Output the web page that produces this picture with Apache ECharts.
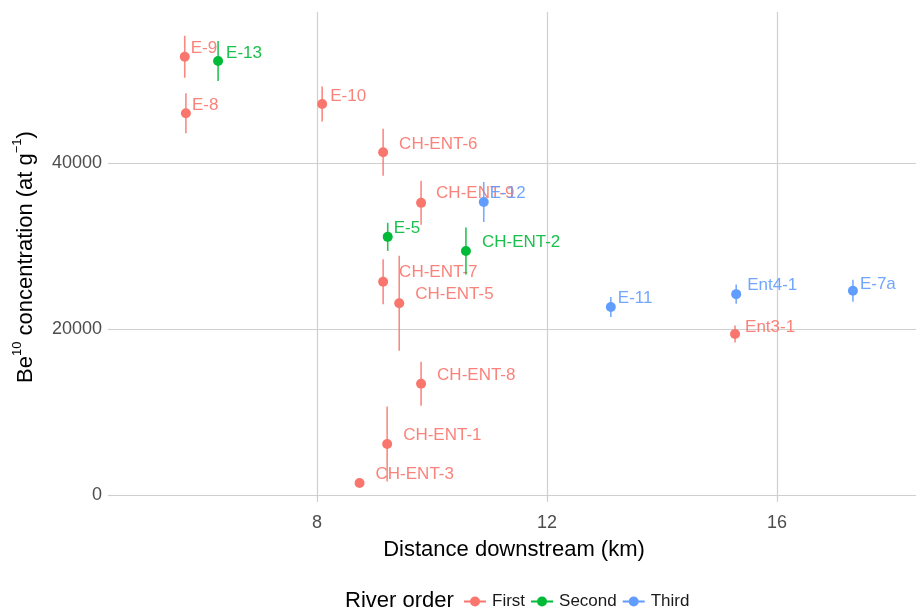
<!DOCTYPE html>
<html>
<head>
<meta charset="utf-8">
<script src="https://cdn.jsdelivr.net/npm/echarts@6/dist/echarts.min.js"></script>
<style>html,body{margin:0;padding:0;background:#fff}#c{width:916px;height:614px}</style>
</head>
<body>
<div id="c"></div>
<script>
// ---- data ----
const sampleNames = ['E-9','E-13','E-8','E-10','CH-ENT-6','CH-ENT-9','E-12','E-5','CH-ENT-2','CH-ENT-7','CH-ENT-5','CH-ENT-8','CH-ENT-1','CH-ENT-3','E-11','Ent4-1','E-7a','Ent3-1'];
const riverOrderOfSample = ['First','Second','First','First','First','First','Third','Second','Second','First','First','First','First','First','Third','Third','Third','First'];
const distanceKm = [5.70,6.28,5.72,8.09,9.15,9.81,10.90,9.23,10.59,9.15,9.43,9.81,9.22,8.74,13.11,15.29,17.32,15.27];
const be10 = [52800,52300,46000,47100,41300,35200,35300,31100,29400,25700,23100,13400,6150,1450,22650,24200,24600,19400];
const be10Err = [2530,2410,2410,2110,2830,2650,2410,1690,2830,2710,5720,2650,4520,400,1200,1150,1330,1020];
const riverOrders = ['First','Second','Third'];
const xTicks = [8,12,16];
const yTicks = [0,20000,40000];

// ---- layout / style (not data) ----
const labelOffset = [[6,-8],[8,-8],[6,-8],[8,-8],[16,-8],[15,-10],[6,-9],[6,-9],[16,-9],[16,-9],[16,-9],[16,-8],[16,-9],[16,-9],[7,-9],[11,-9],[7,-7],[10,-7]];
const colors = {First:'#F8766D', Second:'#00BA38', Third:'#619CFF'};
const FONT = '"Liberation Sans", Arial, sans-serif';
const gridColor = '#cfcfcf';

const chart = echarts.init(document.getElementById('c'), null, {renderer:'canvas'});

function makeSeries(order){
  const data = [];
  sampleNames.forEach((n,i)=>{
    if (riverOrderOfSample[i] === order) data.push([distanceKm[i], be10[i], be10Err[i], i]);
  });
  const color = colors[order];
  return {
    type:'custom',
    name: order,
    itemStyle:{color: color},
    data: data,
    renderItem: function(params, api){
      const x = api.value(0), y = api.value(1), e = api.value(2), idx = api.value(3);
      const p = api.coord([x,y]);
      const lo = api.coord([x,y-e]);
      const hi = api.coord([x,y+e]);
      const off = labelOffset[idx];
      return {type:'group', children:[
        {type:'line', shape:{x1:lo[0],y1:lo[1],x2:hi[0],y2:hi[1]}, style:{stroke:color, lineWidth:1.6, opacity:0.85}},
        {type:'circle', shape:{cx:p[0],cy:p[1],r:5}, style:{fill:color}},
        {type:'text', x:p[0]+off[0], y:p[1]+off[1], style:{text:sampleNames[idx], fill:color, opacity:0.9, fontSize:17, fontFamily:FONT, verticalAlign:'middle', align:'left'}}
      ]};
    }
  };
}

const legendIcon = 'path://M0,9 L22,9 L22,11 L0,11 Z M16,10 A5,5 0 1,1 6,10 A5,5 0 1,1 16,10 Z';

chart.setOption({
  animation:false,
  backgroundColor:'#fff',
  textStyle:{fontFamily:FONT},
  title:{text:'River order', left:345, top:590, padding:0, textStyle:{fontSize:22, fontWeight:'normal', color:'#000', fontFamily:FONT}},
  legend:{
    left:464, top:593, padding:0, itemGap:6, itemWidth:22, itemHeight:10,
    data: riverOrders.map(o=>({name:o, icon:legendIcon})),
    textStyle:{fontSize:17, color:'#1a1a1a', fontFamily:FONT, padding:[0,0,0,1]}
  },
  grid:{left:112, right:0, top:12, bottom:112, containLabel:false},
  xAxis:{
    type:'value', min:4.435, max:18.417,
    name:'Distance downstream (km)', nameLocation:'middle', nameGap:37,
    nameTextStyle:{fontSize:22, color:'#000', fontFamily:FONT},
    axisLine:{show:false},
    axisTick:{show:true, length:4, customValues:xTicks, lineStyle:{color:gridColor, width:1.2}},
    axisLabel:{customValues:xTicks, fontSize:18, color:'#4d4d4d', margin:12, fontFamily:FONT, formatter: v => String(v)},
    splitLine:{show:true, lineStyle:{color:gridColor, width:1.2}}
  },
  yAxis:{
    type:'value', min:-843, max:58193,
    name:'{n|Be}{s|10}{n| concentration (at g}{s|−1}{n|)}', nameLocation:'middle', nameGap:75, nameRotate:90,
    nameTextStyle:{rich:{
      n:{fontSize:22, color:'#000', fontFamily:FONT, lineHeight:26, verticalAlign:'bottom'},
      s:{fontSize:13, color:'#000', fontFamily:FONT, lineHeight:26, verticalAlign:'top'}
    }},
    axisLine:{show:false},
    axisTick:{show:true, length:4, customValues:yTicks, lineStyle:{color:gridColor, width:1.2}},
    axisLabel:{customValues:yTicks, fontSize:18, color:'#4d4d4d', margin:10, fontFamily:FONT, formatter: v => String(v)},
    splitLine:{show:true, lineStyle:{color:gridColor, width:1.2}}
  },
  series: riverOrders.map(makeSeries)
});
</script>
</body>
</html>
